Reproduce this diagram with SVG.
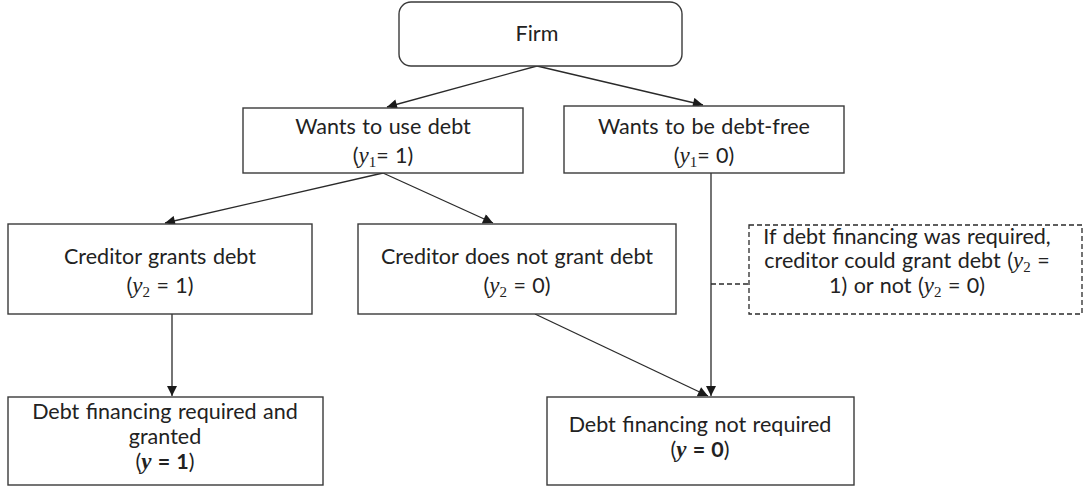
<svg xmlns="http://www.w3.org/2000/svg" width="1084" height="488" viewBox="0 0 1084 488">
<defs>
<marker id="arr" viewBox="0 0 10 10" refX="10" refY="5" markerWidth="11" markerHeight="10" markerUnits="userSpaceOnUse" orient="auto">
<path d="M0,0 L10,5 L0,10 Z" fill="#1a1a1a"/>
</marker>
<style>
.box{fill:#fff;stroke:#3a3a3a;stroke-width:1.4}
.dash{fill:#fff;stroke:#2a2a2a;stroke-width:1.3;stroke-dasharray:5,3}
.t{font-family:Lato,"Liberation Sans",sans-serif;font-size:21.5px;word-spacing:1px;fill:#222;text-anchor:middle}
.m{font-family:"Liberation Serif",serif;font-style:italic;font-size:23px}
.s{font-family:"Liberation Serif",serif;font-size:15px}
.b{font-weight:bold}
.c{fill:none;stroke:#2a2a2a;stroke-width:1.3}
.cd{fill:none;stroke:#2a2a2a;stroke-width:1.3;stroke-dasharray:5,3}
</style>
</defs>
<rect width="1084" height="488" fill="#fff"/>
<g id="connectors">
<line class="c" x1="537" y1="66" x2="387" y2="107" marker-end="url(#arr)"/>
<line class="c" x1="537" y1="66" x2="703" y2="105" marker-end="url(#arr)"/>
<line class="c" x1="383" y1="173" x2="165" y2="223" marker-end="url(#arr)"/>
<line class="c" x1="383" y1="173" x2="493" y2="223" marker-end="url(#arr)"/>
<line class="c" x1="172" y1="314" x2="172" y2="396" marker-end="url(#arr)"/>
<line class="c" x1="535" y1="314" x2="708" y2="396" marker-end="url(#arr)"/>
<line class="c" x1="711" y1="173" x2="711" y2="396" marker-end="url(#arr)"/>
<line class="cd" x1="711" y1="284" x2="749" y2="284"/>
</g>
<g id="firm">
<rect class="box" x="399" y="2" width="283" height="64" rx="12"/>
<text class="t" x="537" y="41">Firm</text>
</g>
<g id="wants-debt">
<rect class="box" x="243" y="108" width="280" height="65"/>
<text class="t" x="383" y="134">Wants to use debt</text>
<text class="t" x="383" y="163">(<tspan class="m">y</tspan><tspan class="s" dy="4">1</tspan><tspan dy="-4">= 1)</tspan></text>
</g>
<g id="debt-free">
<rect class="box" x="564" y="106" width="280" height="67"/>
<text class="t" x="704" y="134">Wants to be debt-free</text>
<text class="t" x="704" y="163">(<tspan class="m">y</tspan><tspan class="s" dy="4">1</tspan><tspan dy="-4">= 0)</tspan></text>
</g>
<g id="creditor-grants">
<rect class="box" x="8" y="224" width="304" height="90"/>
<text class="t" x="160" y="264">Creditor grants debt</text>
<text class="t" x="160" y="293">(<tspan class="m">y</tspan><tspan class="s" dy="4">2</tspan><tspan dy="-4"> = 1)</tspan></text>
</g>
<g id="creditor-denies">
<rect class="box" x="358" y="224" width="318" height="90"/>
<text class="t" x="517" y="264">Creditor does not grant debt</text>
<text class="t" x="517" y="293">(<tspan class="m">y</tspan><tspan class="s" dy="4">2</tspan><tspan dy="-4"> = 0)</tspan></text>
</g>
<g id="note">
<rect class="dash" x="749" y="225" width="333" height="89"/>
<text class="t" x="907" y="244">If debt financing was required,</text>
<text class="t" x="907" y="268">creditor could grant debt (<tspan class="m">y</tspan><tspan class="s" dy="4">2</tspan><tspan dy="-4"> =</tspan></text>
<text class="t" x="907" y="293">1) or not (<tspan class="m">y</tspan><tspan class="s" dy="4">2</tspan><tspan dy="-4"> = 0)</tspan></text>
</g>
<g id="required-granted">
<rect class="box" x="8" y="397" width="315" height="88"/>
<text class="t" x="165" y="419">Debt financing required and</text>
<text class="t" x="165" y="444">granted</text>
<text class="t" x="165" y="469">(<tspan class="m b">y</tspan><tspan class="b"> = 1</tspan>)</text>
</g>
<g id="not-required">
<rect class="box" x="547" y="397" width="307" height="88"/>
<text class="t" x="700" y="432">Debt financing not required</text>
<text class="t" x="700" y="457">(<tspan class="m b">y</tspan><tspan class="b"> = 0</tspan>)</text>
</g>
</svg>
